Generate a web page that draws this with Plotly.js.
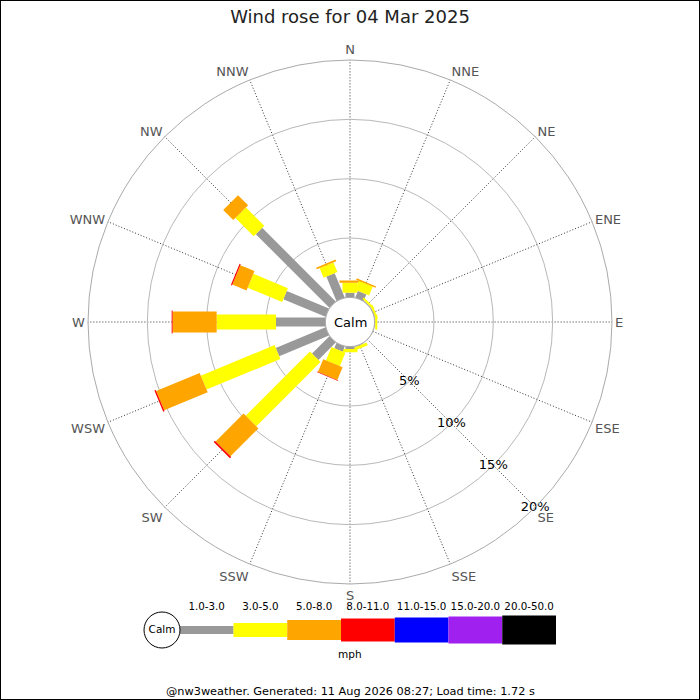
<!DOCTYPE html>
<html>
<head>
<meta charset="utf-8">
<script src="https://cdn.plot.ly/plotly-3.0.1.min.js"></script>
<style>html,body{margin:0;padding:0;background:#fff}#chart{width:700px;height:700px}</style>
</head>
<body>
<div id="chart"></div>
<script>
// ---- data ----
const directions = ["N","NNE","NE","ENE","E","ESE","SE","SSE","S","SSW","SW","WSW","W","WNW","NW","NNW"];
const dirAngles = [0,22.5,45,67.5,90,112.5,135,157.5,180,202.5,225,247.5,270,292.5,315,337.5];
const speedBins = ["1.0-3.0","3.0-5.0","5.0-8.0","8.0-11.0","11.0-15.0","15.0-20.0","20.0-50.0"];
const binColors = ["#999999","#ffff00","#ffa500","#ff0000","#0000ff","#a020f0","#000000"];
// percentage of time per direction, per speed bin (mph)
const pct_1_3   = [0.38,0.60,0.05,0.05,0.05,0,0,0.05,0.20,0.47,2.07,4.54,4.16,3.85,8.77,2.22];
const pct_3_5   = [0.85,0.82,0.17,0.17,0.17,0,0,0.25,0.28,1.22,7.65,6.73,5.00,3.15,2.18,0.88];
const pct_5_8   = [0.20,0.12,0,0,0,0,0,0,0,1.16,3.33,3.97,3.71,1.29,1.20,0.15];
const pct_8_11  = [0,0,0,0,0,0,0,0,0,0.05,0.15,0.12,0.08,0.10,0,0];
const pct_11_15 = [0,0,0,0,0,0,0,0,0,0,0,0,0,0,0,0];
const pct_15_20 = [0,0,0,0,0,0,0,0,0,0,0,0,0,0,0,0];
const pct_20_50 = [0,0,0,0,0,0,0,0,0,0,0,0,0,0,0,0];
const ringTicks = [5,10,15,20];
const ringLabels = ["5%","10%","15%","20%"];
const titleText = "Wind rose for 04 Mar 2025";
const footerText = "@nw3weather. Generated: 11 Aug 2026 08:27; Load time: 1.72 s";

// ---- styling ----
const binSeries = [pct_1_3,pct_3_5,pct_5_8,pct_8_11,pct_11_15,pct_15_20,pct_20_50];
const roseWidths = [9,15,21,23,25,27,29];
const legendWidths = [8,14,20,23,25,27,29];
const FONT = "DejaVu Sans, Verdana, sans-serif";

const traces = [];
// calm circle outline (hole edge)
const circTheta = [];
for (let a = 0; a <= 360; a += 5) circTheta.push(a);
traces.push({type:"scatterpolar", r: circTheta.map(()=>0), theta: circTheta, mode:"lines",
  line:{color:"#b0b0b0", width:1}, hoverinfo:"skip", showlegend:false});

// stacked rectangular bars
directions.forEach((d, i) => {
  let base = 0;
  binSeries.forEach((series, b) => {
    const v = series[i];
    if (v > 0) {
      traces.push({type:"scatterpolar", r:[base, base + v], theta:[dirAngles[i], dirAngles[i]],
        mode:"lines", line:{color:binColors[b], width:roseWidths[b]},
        hoverinfo:"skip", showlegend:false, cliponaxis:false});
    }
    base += v;
  });
});

// ring labels along SE
traces.push({type:"scatterpolar", r: ringTicks, theta: ringTicks.map(()=>135), mode:"text",
  text: ringLabels, textposition:"middle center", textfont:{family:FONT, size:13, color:"#000"},
  hoverinfo:"skip", showlegend:false, cliponaxis:false});

// legend bar (cartesian subplot)
speedBins.forEach((lab, b) => {
  traces.push({type:"scatter", xaxis:"x", yaxis:"y", x:[b, b+1], y:[0,0], mode:"lines",
    line:{color:binColors[b], width:legendWidths[b]}, hoverinfo:"skip", showlegend:false, cliponaxis:false});
});
traces.push({type:"scatter", xaxis:"x", yaxis:"y", x: speedBins.map((_, b)=>b+0.5), y: speedBins.map(()=>0.76),
  mode:"text", text: speedBins, textfont:{family:FONT, size:10.3, color:"#000"},
  hoverinfo:"skip", showlegend:false, cliponaxis:false});
traces.push({type:"scatter", xaxis:"x", yaxis:"y", x:[-0.33], y:[0], mode:"markers+text", text:["Calm"],
  textposition:"middle center", textfont:{family:FONT, size:10.5, color:"#000"},
  marker:{symbol:"circle", size:36, color:"#fff", line:{color:"#000", width:1}},
  hoverinfo:"skip", showlegend:false, cliponaxis:false});

const layout = {
  width:700, height:700,
  margin:{l:0,r:0,t:0,b:0},
  paper_bgcolor:"#fff", plot_bgcolor:"#fff",
  font:{family:FONT, color:"#000"},
  showlegend:false,
  title:{text:titleText, x:0.5, xanchor:"center", y:1-17/700, yanchor:"middle", yref:"container",
    font:{family:FONT, size:18, color:"#222"}},
  polar:{
    domain:{x:[88/700, 612/700], y:[116/700, 640/700]},
    hole:0.094,
    bgcolor:"#fff",
    angularaxis:{rotation:90, direction:"clockwise", tickmode:"array", tickvals:dirAngles, ticktext:directions,
      ticks:"", showline:true, linecolor:"#aaaaaa", linewidth:1,
      showgrid:true, gridcolor:"#333", gridwidth:1, griddash:"1px,2px",
      tickfont:{family:FONT, size:13, color:"#555"}},
    radialaxis:{range:[0,20], tickmode:"array", tickvals:ringTicks, showticklabels:false, ticks:"",
      showline:false, showgrid:true, gridcolor:"#b8b8b8", gridwidth:1, angle:-45}
  },
  xaxis:{domain:[126/700, 556/700], range:[-1,7], visible:false, fixedrange:true},
  yaxis:{domain:[40/700, 100/700], range:[-1,1], visible:false, fixedrange:true},
  annotations:[
    {text:"Calm", x:0.5, y:1-322/700, xref:"paper", yref:"paper", showarrow:false,
      font:{family:FONT, size:13, color:"#000"}, xanchor:"center", yanchor:"middle"},
    {text:"mph", x:350/700, y:1-654/700, xref:"paper", yref:"paper", showarrow:false,
      font:{family:FONT, size:10.5, color:"#000"}, xanchor:"center", yanchor:"middle"},
    {text:footerText, x:0.5, y:1-691/700, xref:"paper", yref:"paper", showarrow:false,
      font:{family:FONT, size:11.3, color:"#000"}, xanchor:"center", yanchor:"middle"}
  ],
  shapes:[
    {type:"rect", xref:"paper", yref:"paper", x0:0, x1:1, y0:0, y1:1, line:{color:"#000", width:2}, fillcolor:"rgba(0,0,0,0)"}
  ]
};

Plotly.newPlot("chart", traces, layout, {staticPlot:true, displayModeBar:false});
</script>
</body>
</html>
